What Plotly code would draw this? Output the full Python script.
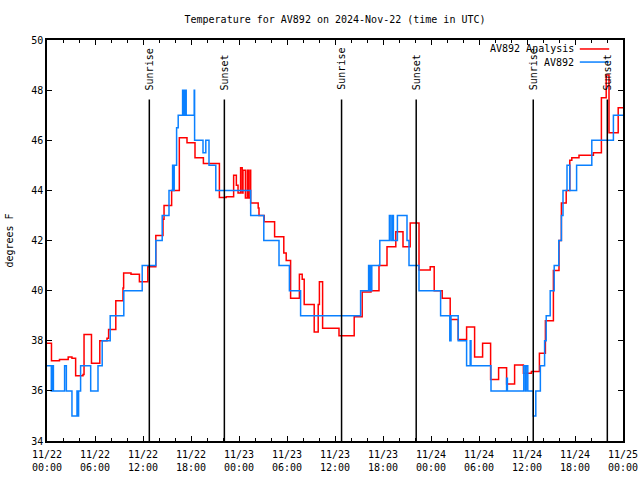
import pandas as pd
import plotly.graph_objects as go

# ---------------- data ----------------
start = "2024-11-22 00:00"

# AV892 observations (hours since start, deg F)
obs_hours = [0, 0.54, 0.7, 0.8, 2.2, 2.42, 3.12, 3.75, 3.85, 3.95, 4.2, 5.46, 6.375, 6.9, 7.9,
             9.6, 11.9, 13.6, 14.4, 15.25, 15.7, 15.8, 15.9, 16.2, 16.4, 16.95, 17.05, 17.1,
             17.2, 17.3, 17.4, 18.4, 18.45, 19.5, 19.85, 20.25, 21.1, 25.46, 27.1, 29.0,
             30.3, 31.7, 39.2, 40.2, 40.3, 40.4, 40.5, 40.6, 41.6, 42.8, 43.0, 43.2, 43.3,
             43.8, 45.0, 45.25, 46.5, 49.2, 50.35, 50.5, 51.4, 52.45, 52.9, 53.0, 55.5,
             57.45, 57.55, 59.6, 59.8, 59.9, 60.1, 60.78, 61.1, 61.67, 62.2, 62.4, 62.9,
             63.4, 63.97, 64.3, 64.5, 65.0, 65.35, 66.2, 68.1, 70.8, 72.0]
obs_temp = [37, 36, 37, 36, 37, 36, 35, 36, 35, 36, 37, 36, 37, 38, 39,
            40, 41, 42, 43, 44, 45, 44, 45, 46.5, 47, 48, 47, 48,
            47, 48, 47, 48, 46, 45.5, 46, 45, 44, 43, 42, 41,
            40, 39, 40, 41, 40, 41, 40, 41, 42, 43, 42, 43, 42,
            43, 42, 41, 40, 39, 38, 39, 38, 37, 38, 37, 36,
            36.5, 36, 37, 36, 37, 36, 35, 36, 37, 38, 39, 40,
            41, 42, 43, 44, 45, 44, 45, 46, 47, 47]

# AV892 analysis (hours since start, deg F)
ana_hours = [0, 0.56, 1.56, 2.65, 3.12, 3.58, 4.5, 4.63, 5.56, 6.6, 7.5, 7.7, 8.6, 9.5, 9.58,
             10.5, 11.55, 12.6, 13.6, 14.5, 14.63, 15.58, 16.54, 17.5, 18.5, 19.55, 21.55,
             22.4, 23.33, 23.67, 23.88, 24.2, 24.4, 24.5, 24.8, 25.04, 25.2, 25.4, 25.46,
             26.4, 26.5, 27.15, 28.45, 29.6, 29.9, 30.45, 31.55, 31.9, 32.15, 33.4, 33.9,
             34.05, 34.45, 36.5, 38.4, 39.4, 40.5, 41.5, 42.5, 43.6, 44.5, 45.4, 46.5,
             47.9, 48.4, 49.4, 50.4, 51.4, 52.45, 53.45, 54.45, 55.45, 56.45, 57.45,
             58.45, 59.55, 60.55, 61.55, 62.3, 63.3, 64.0, 64.3, 64.9, 65.35, 65.6, 66.5,
             68.3, 69.3, 69.9, 70.25, 71.4, 72.0]
ana_temp = [37.9, 37.2, 37.25, 37.35, 37.3, 36.6, 36.65, 38.25, 37.1, 38.0, 38.1, 38.45, 39.6,
            40.1, 40.7, 40.65, 40.35, 40.95, 42.2, 42.85, 43.4, 44.0, 46.1, 45.9, 45.3,
            45.07, 43.72, 43.75, 44.6, 44.2, 43.9, 44.9, 43.9, 44.8, 43.7, 44.8, 43.7,
            44.8, 43.5, 43.3, 43.0, 42.75, 42.15, 41.5, 41.2, 39.7, 40.65, 40.45, 39.45,
            38.35, 39.45, 40.35, 38.5, 38.2, 38.96, 39.95, 40.0, 41.0, 41.75, 42.35,
            41.75, 42.7, 40.82, 40.95, 40.0, 39.7, 38.85, 38.05, 38.55, 37.35, 37.9,
            36.45, 36.92, 36.27, 37.03, 36.7, 36.77, 37.5, 38.8, 40.8, 42.0, 43.5, 44.0,
            45.2, 45.3, 45.4, 45.5, 47.7, 48.6, 46.3, 47.3, 47.3]

# sunrise / sunset events
event_hours = [12.79, 22.17, 36.82, 46.15, 60.78, 70.04]
event_labels = ["Sunrise", "Sunset", "Sunrise", "Sunset", "Sunrise", "Sunset"]

y_ticks = [34, 36, 38, 40, 42, 44, 46, 48, 50]

# ---------------- figure ----------------
base = pd.Timestamp(start)
to_time = lambda hrs: [base + pd.Timedelta(hours=h) for h in hrs]

FONT = "DejaVu Sans Mono"
RED = "#ff0000"
BLUE = "#0a80ff"

fig = go.Figure()
fig.add_trace(go.Scatter(x=to_time(ana_hours), y=ana_temp, mode="lines",
                         line=dict(color=RED, width=1.5, shape="hv"),
                         name="AV892 Analysis", showlegend=False))
fig.add_trace(go.Scatter(x=to_time(obs_hours), y=obs_temp, mode="lines",
                         line=dict(color=BLUE, width=1.5, shape="hv"),
                         name="AV892", showlegend=False))

shapes = []
annotations = []
for h, lab in zip(event_hours, event_labels):
    t = base + pd.Timedelta(hours=h)
    shapes.append(dict(type="line", xref="x", yref="y", x0=t, x1=t, y0=34, y1=47.63,
                       line=dict(color="black", width=1.5)))
    annotations.append(dict(x=t, y=47.92, xref="x", yref="y", text=lab, showarrow=False,
                            textangle=-90, xanchor="center", yanchor="bottom",
                            font=dict(family=FONT, size=10, color="black")))

# legend (text right, sample line at right)
for name, col, yp in [("AV892 Analysis", RED, 0.9776), ("AV892", BLUE, 0.945)]:
    annotations.append(dict(x=0.918, y=yp, xref="paper", yref="paper", text=name,
                            showarrow=False, xanchor="right", yanchor="middle",
                            font=dict(family=FONT, size=10, color="black")))
    shapes.append(dict(type="line", xref="paper", yref="paper", x0=0.925, x1=0.976,
                       y0=yp, y1=yp, line=dict(color=col, width=1.5)))

fig.update_layout(
    width=640, height=480,
    margin=dict(l=47, r=17, t=40, b=39),
    paper_bgcolor="white", plot_bgcolor="white",
    title=dict(text="Temperature for AV892 on 2024-Nov-22 (time in UTC)",
               x=(47 + 623) / 2 / 640, xanchor="center", y=1 - 19 / 480, yanchor="middle",
               yref="container", font=dict(family=FONT, size=10, color="black")),
    font=dict(family=FONT, size=10, color="black"),
    shapes=shapes, annotations=annotations,
    showlegend=False,
)
fig.update_xaxes(
    type="date", range=[base, base + pd.Timedelta(hours=72)], automargin=False,
    tick0=base, dtick=6 * 3600 * 1000, tickformat="%m/%d<br>%H:%M",
    ticks="inside", ticklen=5, tickcolor="black", tickwidth=1, ticklabelstandoff=3,
    minor=dict(dtick=2 * 3600 * 1000, ticks="inside", ticklen=3, tickcolor="black"),
    showline=True, linecolor="black", linewidth=1.5, mirror="allticks",
    showgrid=False, zeroline=False,
    tickfont=dict(family=FONT, size=10, color="black"),
)
fig.update_yaxes(
    range=[34, 50], tickvals=y_ticks, automargin=False,
    ticks="inside", ticklen=5, tickcolor="black",
    showline=True, linecolor="black", linewidth=1.5, mirror="allticks",
    showgrid=False, zeroline=False,
    title=dict(text="degrees F", font=dict(family=FONT, size=10, color="black"), standoff=16),
    tickfont=dict(family=FONT, size=10, color="black"),
)

fig.write_html("out.html", config={"displayModeBar": False},
               post_script="document.body.style.margin='0px';document.body.style.overflow='hidden';")
